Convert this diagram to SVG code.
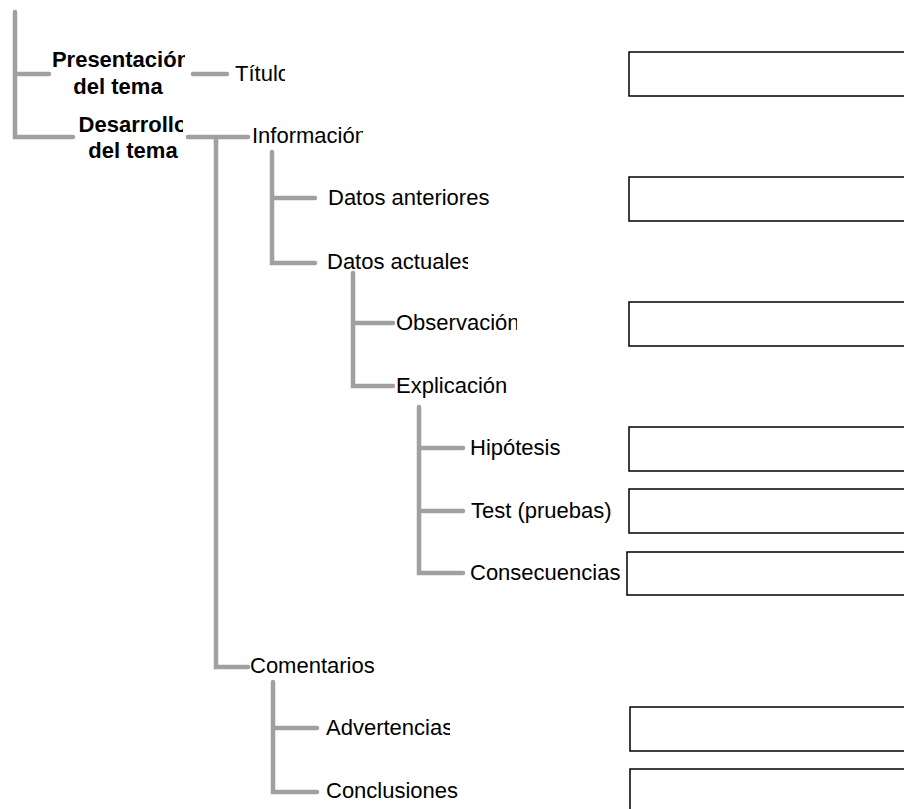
<svg xmlns="http://www.w3.org/2000/svg" width="904" height="809" viewBox="0 0 904 809">
<style>
.ln{fill:none;stroke:#a0a0a0;stroke-width:4.5;stroke-linecap:round;stroke-linejoin:miter}
.bx{fill:#fff;stroke:#000;stroke-width:1.5}
.t{font-family:"Liberation Sans",Arial,sans-serif;font-size:22px;fill:#000}
.b{font-family:"Liberation Sans",Arial,sans-serif;font-size:22px;font-weight:bold;fill:#000;text-anchor:middle}
</style>
<defs>
<clipPath id="cPres"><rect x="40" y="40" width="145" height="70"/></clipPath>
<clipPath id="cDes"><rect x="60" y="105" width="123" height="70"/></clipPath>
<clipPath id="cTit"><rect x="230" y="55" width="55" height="40"/></clipPath>
<clipPath id="cInf"><rect x="245" y="115" width="118" height="40"/></clipPath>
<clipPath id="cAct"><rect x="320" y="245" width="148" height="40"/></clipPath>
<clipPath id="cObs"><rect x="390" y="305" width="127" height="40"/></clipPath>
<clipPath id="cAdv"><rect x="320" y="710" width="130" height="40"/></clipPath>
</defs>
<rect width="904" height="809" fill="#fff"/>
<g id="connectors">
<path class="ln" d="M15,12 V137 H73 M15,74 H49"/>
<path class="ln" d="M193,74 H227"/>
<path class="ln" d="M188,137 H248 M216,137 V667 H248"/>
<path class="ln" d="M272,152 V263 H315 M272,198 H315"/>
<path class="ln" d="M353,273 V386 H393 M353,323 H393"/>
<path class="ln" d="M419,407 V573 H463 M419,448 H463 M419,511 H463"/>
<path class="ln" d="M273,682 V792 H317 M273,728 H317"/>
</g>
<g id="n-presentacion"><g clip-path="url(#cPres)"><text class="b" x="121" y="67">Presentación</text><text class="b" x="118" y="94">del tema</text></g></g>
<g id="n-desarrollo"><g clip-path="url(#cDes)"><text class="b" x="133" y="132">Desarrollo</text></g><text class="b" x="133" y="158">del tema</text></g>
<g id="n-titulo"><text class="t" x="235" y="81" clip-path="url(#cTit)">Título</text><rect class="bx" x="629" y="52" width="290" height="44"/></g>
<g id="n-informacion"><text class="t" x="252" y="143" clip-path="url(#cInf)">Información</text></g>
<g id="n-datos-anteriores"><text class="t" x="328" y="205">Datos anteriores</text><rect class="bx" x="629" y="177" width="290" height="44"/></g>
<g id="n-datos-actuales"><text class="t" x="327" y="269" clip-path="url(#cAct)">Datos actuales</text></g>
<g id="n-observacion"><text class="t" x="396" y="330" clip-path="url(#cObs)">Observación</text><rect class="bx" x="629" y="302" width="290" height="44"/></g>
<g id="n-explicacion"><text class="t" x="396" y="393">Explicación</text></g>
<g id="n-hipotesis"><text class="t" x="470" y="455">Hipótesis</text><rect class="bx" x="629" y="427" width="290" height="44"/></g>
<g id="n-test"><text class="t" x="471" y="518">Test (pruebas)</text><rect class="bx" x="629" y="489" width="290" height="44"/></g>
<g id="n-consecuencias"><text class="t" x="470" y="580">Consecuencias</text><rect class="bx" x="627" y="552" width="290" height="43"/></g>
<g id="n-comentarios"><text class="t" x="250" y="673">Comentarios</text></g>
<g id="n-advertencias"><text class="t" x="326" y="735" clip-path="url(#cAdv)">Advertencias</text><rect class="bx" x="630" y="707" width="290" height="44"/></g>
<g id="n-conclusiones"><text class="t" x="326" y="798">Conclusiones</text><rect class="bx" x="630" y="769" width="290" height="60"/></g>
</svg>
